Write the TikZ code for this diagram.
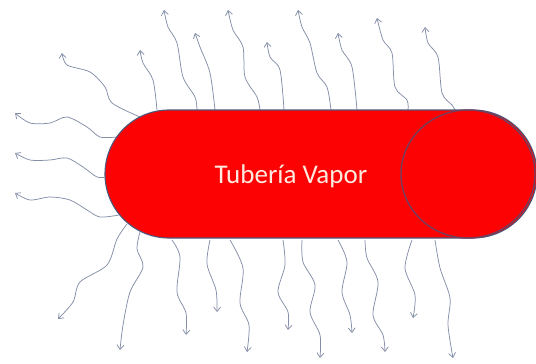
\documentclass[tikz,border=0pt]{standalone}
\usepackage{fontspec}
\usepackage{tikz}
\usetikzlibrary{arrows.meta}
\newfontfamily\pipefont{Carlito}
\definecolor{pipecol}{RGB}{252,2,2}
\definecolor{edgecol}{RGB}{78,88,122}
\definecolor{ringcol}{RGB}{118,62,92}
\definecolor{heatcol}{RGB}{132,142,168}
\definecolor{labelcol}{RGB}{255,234,224}

\begin{document}
\begin{tikzpicture}[
  x=1pt, y=-1pt,
  heat/.style={draw=heatcol, line width=0.75pt,
               -{Straight Barb[length=4.5pt, width=7pt]}},
  pipe/.style={draw=edgecol, fill=pipecol, line width=1.1pt},
  ring/.style={draw=ringcol, line width=1.4pt},
  lbl/.style={font=\pipefont\fontsize{27}{32}\selectfont, text=labelcol}
]
  \useasboundingbox (0,0) rectangle (536,364);

  % heat leaving upwards
  \draw[heat] plot[smooth] coordinates {(140,117) (112,103) (105,87) (90,72) (67,65) (62,53)};
  \draw[heat] plot[smooth] coordinates {(157,110) (153,80) (143,63) (140,50)};
  \draw[heat] plot[smooth] coordinates {(197,110) (195,97) (183,77) (177,43) (168,27) (164,10)};
  \draw[heat] plot[smooth] coordinates {(215,110) (210,73) (200,47) (195,33)};
  \draw[heat] plot[smooth] coordinates {(260,110) (257,97) (245,77) (243,47) (233,30) (228,10)};
  \draw[heat] plot[smooth] coordinates {(284,110) (280,70) (270,57) (267,42)};
  \draw[heat] plot[smooth] coordinates {(331,110) (327,87) (317,73) (310,43) (302,27) (298,10)};
  \draw[heat] plot[smooth] coordinates {(357,110) (352,67) (342,50) (338,33)};
  \draw[heat] plot[smooth] coordinates {(408,110) (407,100) (395,87) (392,53) (383,40) (377,18)};
  \draw[heat] plot[smooth] coordinates {(455,110) (452,105) (442,93) (438,57) (428,43) (425,27)};

  % heat leaving to the left
  \draw[heat] plot[smooth] coordinates {(117,137) (100,137) (87,127) (67,117) (50,123) (30,123) (15,113)};
  \draw[heat] plot[smooth] coordinates {(106,177) (97,177) (83,167) (67,158) (50,160) (30,160) (15,153)};
  \draw[heat] plot[smooth] coordinates {(119,215) (100,217) (87,210) (70,200) (50,197) (30,200) (15,193)};

  % heat leaving downwards
  \draw[heat] plot[smooth] coordinates {(127,224) (117,239) (107,265) (80,282) (73,302) (58,319)};
  \draw[heat] plot[smooth] coordinates {(140,232) (137,249) (143,267) (130,292) (123,325) (120,350)};
  \draw[heat] plot[smooth] coordinates {(172,240) (180,257) (177,292) (186,313) (186,335)};
  \draw[heat] plot[smooth] coordinates {(210,240) (207,264) (216,290) (217,312)};
  \draw[heat] plot[smooth] coordinates {(230,240) (243,268) (240,303) (249,325) (247,352)};
  \draw[heat] plot[smooth] coordinates {(283,240) (285,265) (278,292) (288,312) (288,330)};
  \draw[heat] plot[smooth] coordinates {(302,240) (303,262) (315,285) (310,312) (320,335) (320,358)};
  \draw[heat] plot[smooth] coordinates {(338,240) (347,262) (342,292) (350,315) (352,333)};
  \draw[heat] plot[smooth] coordinates {(365,240) (367,258) (378,282) (373,315) (383,335) (385,352)};
  \draw[heat] plot[smooth] coordinates {(412,240) (405,268) (415,295) (413,318)};
  \draw[heat] plot[smooth] coordinates {(435,240) (440,268) (450,298) (448,325) (453,358)};

  % the pipe and its open end
  \draw[pipe, rounded corners=63.9pt] (105,110) rectangle (537,238);
  \draw[ring] (468,174) ellipse [x radius=67pt, y radius=64pt];
  \node[lbl] (name) at (291,176) {Tubería Vapor};
\end{tikzpicture}
\end{document}
